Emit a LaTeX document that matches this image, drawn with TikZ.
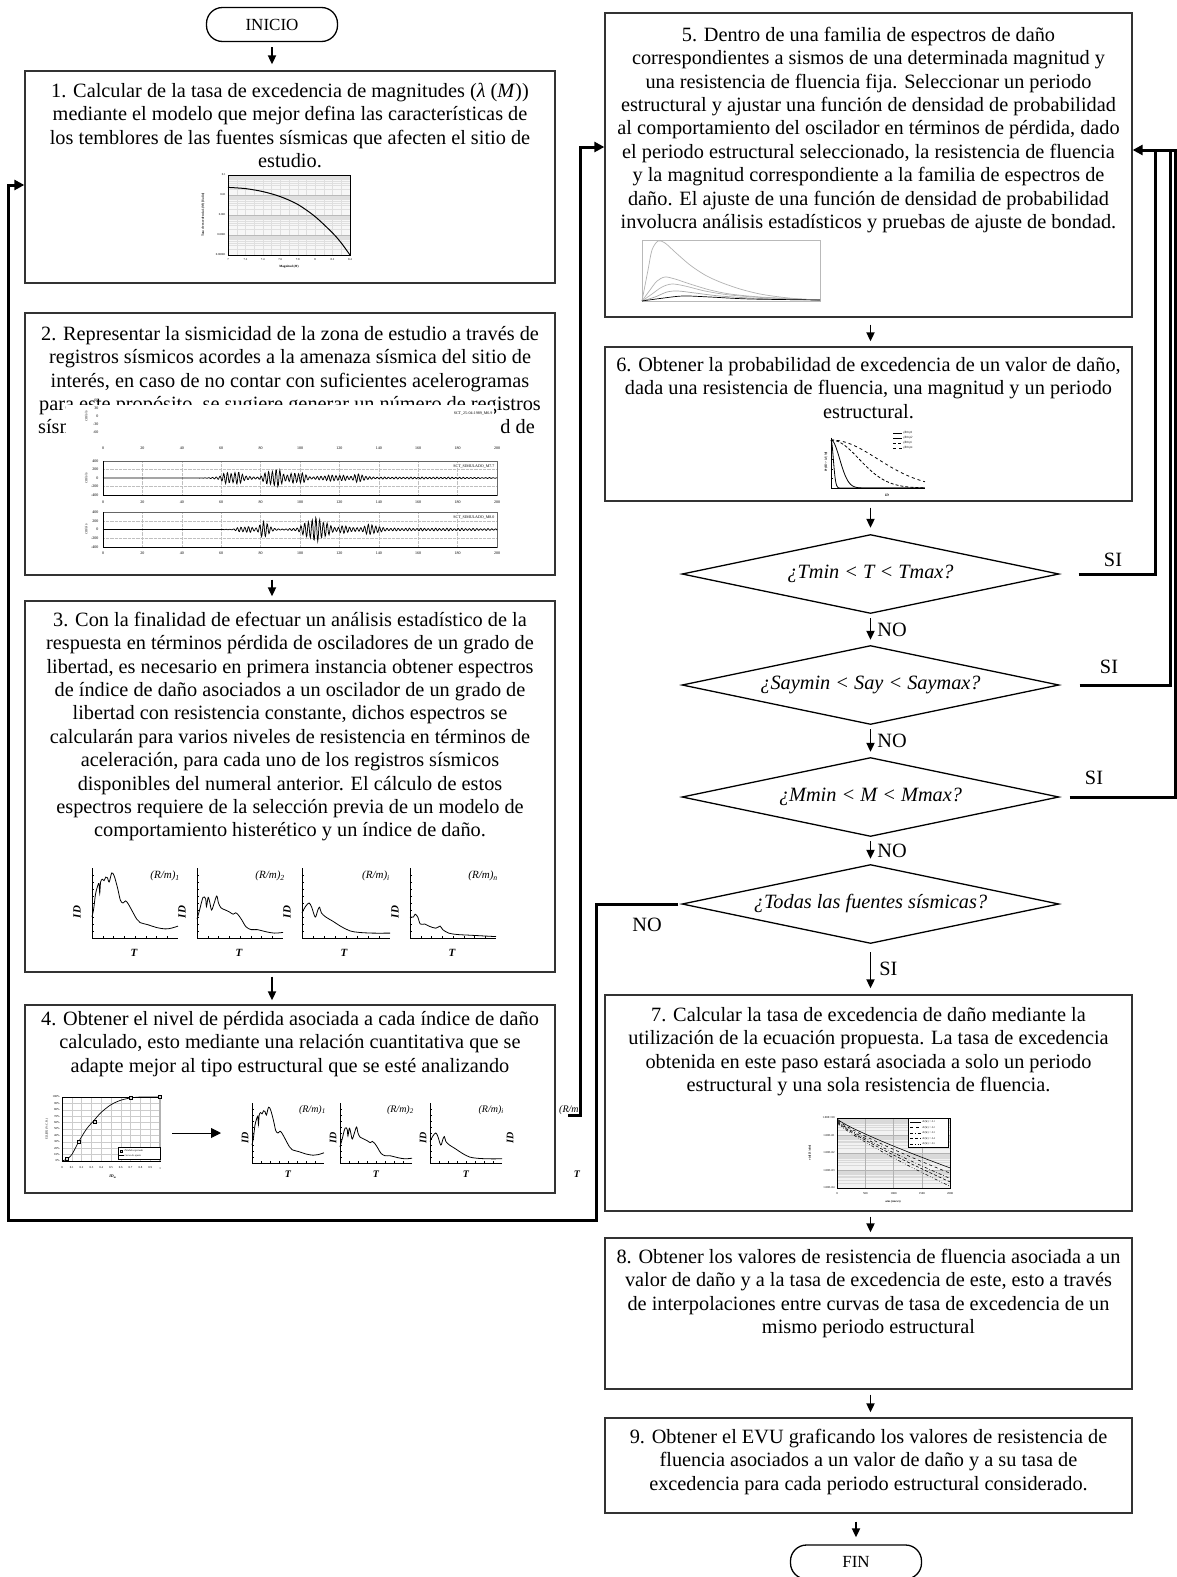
\documentclass[tikz,border=0pt]{standalone}
\usepackage{fontspec}
\setmainfont{Liberation Serif}
\usetikzlibrary{arrows.meta,shapes.geometric,fit,calc}
\newcommand{\fstr}{\rule{0pt}{16pt}}
\newcommand{\rmsub}[1]{\textit{(R/m)}\textsubscript{\textit{#1}}}
\newcommand{\specplot}[5]{%
\begin{scope}[shift={(#1,#2)},x=#3pt,y=#4pt]
\draw[line width=0.7pt] (0,1) -- (0,0) -- (1,0);
\foreach \k in {1,...,9}{\draw[line width=0.4pt] (0,\k/10) -- ++(1.8pt,0);}
\foreach \k in {1,...,7}{\draw[line width=0.4pt] (\k/8,0) -- ++(0,1.8pt);}
\draw[line width=0.8pt] plot[smooth,tension=0.55] coordinates {#5};
\end{scope}}
\begin{document}
\begin{tikzpicture}[x=1pt,y=-1pt,
  declare function={bmp(\q,\c,\w)=1/(1+min(abs((\q-\c)/\w),10)^4);
    envA(\q)=130*bmp(\q,66,6)+180*bmp(\q,87,5)+110*bmp(\q,99,4)+50*bmp(\q,117,7)+65*bmp(\q,130,3)+20*bmp(\q,150,45);
    envB(\q)=60*bmp(\q,72,4)+150*bmp(\q,82,3)+230*bmp(\q,108,6)+50*bmp(\q,123,3)+80*bmp(\q,136,4)+28*bmp(\q,155,50);
    osc(\q)=sin(mod(\q,1.9)/1.9*360)*(0.85+0.15*sin(mod(\q,6.7)/6.7*360));}]
\tikzset{
  mybox/.style={draw=black!80, line width=1.3pt, inner sep=0pt},
  mybody/.style={font=\fontsize{20.3}{23.4}\selectfont, align=center, inner sep=0pt, anchor=north},
  myterm/.style={draw=black, line width=1.3pt, rounded corners=16pt, minimum width=131pt, minimum height=34pt, inner sep=0pt, font=\fontsize{17}{20}\selectfont},
  mydec/.style={diamond, draw=black, line width=1.3pt, minimum width=377pt, minimum height=79pt, shape aspect=4.77, inner sep=0pt, font=\fontsize{20.3}{24}\selectfont\itshape},
  myarr/.style={line width=1.8pt, -{Triangle[length=9pt,width=8pt]}},
  mylp/.style={line width=3pt},
  mylpa/.style={line width=3pt, -{Triangle[length=10pt,width=10pt]}},
  mylbl/.style={font=\fontsize{20.3}{24}\selectfont, inner sep=0pt},
  mytk/.style={font=\fontsize{4}{4.5}\selectfont, inner sep=0.4pt},
  mytiny/.style={font=\fontsize{3}{3.5}\selectfont, inner sep=0.3pt},
  myax/.style={font=\fontsize{11}{12}\selectfont\bfseries\itshape, inner sep=0pt},
  myrm/.style={font=\fontsize{11}{12}\selectfont, inner sep=0pt}
}
\useasboundingbox[fill=white] (0,0) rectangle (1177,1577);

% ---------------- left column boxes ----------------
\node[myterm] (ini) at (272,24.5) {INICIO};
\node[mybox, fit={(25,71) (555,283)}] (b1) {};
\node[mybox, fit={(25,313) (555,575)}] (b2) {};
\node[mybox, fit={(25,601) (555,972)}] (b3) {};
\node[mybox, fit={(25,1005) (555,1193)}] (b4) {};

\node[mybody] (t1) at (290,81) {\fstr 1. Calcular de la tasa de excedencia de magnitudes (\textit{λ} (\textit{M}))\\mediante el modelo que mejor defina las características de\\los temblores de las fuentes sísmicas que afecten el sitio de\\estudio.};
\node[mybody] (t2) at (290,324) {\fstr 2. Representar la sismicidad de la zona de estudio a través de\\registros sísmicos acordes a la amenaza sísmica del sitio de\\interés, en caso de no contar con suficientes acelerogramas\\para este propósito, se sugiere generar un número de registros};
\node[mylbl, anchor=base west] (t2a) at (38,433) {sísm};
\node[mylbl, anchor=base east] (t2b) at (535,433) {d de};
\node[mybody] (t3) at (290,610) {\fstr 3. Con la finalidad de efectuar un análisis estadístico de la\\respuesta en términos pérdida de osciladores de un grado de\\libertad, es necesario en primera instancia obtener espectros\\de índice de daño asociados a un oscilador de un grado de\\libertad con resistencia constante, dichos espectros se\\calcularán para varios niveles de resistencia en términos de\\aceleración, para cada uno de los registros sísmicos\\disponibles del numeral anterior. El cálculo de estos\\espectros requiere de la selección previa de un modelo de\\comportamiento histerético y un índice de daño.};
\node[mybody] (t4) at (290,1009) {\fstr 4. Obtener el nivel de pérdida asociada a cada índice de daño\\calculado, esto mediante una relación cuantitativa que se\\adapte mejor al tipo estructural que se esté analizando};

% ---------------- chart 1 ----------------
\fill[gray!6] (228,175) rectangle (350,255);
\foreach \k in {1,...,13}{\draw[gray!25, line width=0.25pt] ({228+\k*122/14},175) -- ({228+\k*122/14},255);}
\foreach \d in {0,...,3}{\foreach \m in {2,...,9}{\draw[gray!25, line width=0.25pt] (228,{175+20*(\d+1)-20*ln(\m)/ln(10)}) -- (350,{175+20*(\d+1)-20*ln(\m)/ln(10)});}}
\foreach \d in {1,2,3}{\draw[gray!55, line width=0.35pt] (228,{175+20*\d}) -- (350,{175+20*\d});}
\draw[line width=0.8pt] (228,175) rectangle (350,255);
\draw[line width=1pt] plot[smooth] coordinates {(228,187.4) (245.4,188.6) (262.9,191.6) (280.3,196.6) (297.7,204.4) (315.1,216.6) (332.6,233) (341.3,243) (350,255)};
\foreach \v [count=\i from 0] in {0.1,0.01,0.001,0.0001,0.00001}{\node[mytiny, anchor=east] (c1y\i) at (226,{175+20*\i}) {\v};}
\foreach \v [count=\i from 0] in {7,7.2,7.4,7.6,7.8,8,8.2,8.4}{\node[mytiny] (c1x\i) at ({228+\i*122/7},260) {\v};}
\node[mytiny, font=\fontsize{3.2}{3.5}\selectfont\bfseries] (c1xt) at (289,267) {Magnitud (\textit{M})};
\node[mytiny, font=\fontsize{3.2}{3.5}\selectfont\bfseries, rotate=90] (c1yt) at (203,215) {Tasa de excedencia \textit{λ}(\textit{M}) [1/año]};

% ---------------- chart 2 (seismograms) ----------------
\fill[white] (66,405) rectangle (494,442);
\foreach \v/\yy [count=\i] in {60/400,30/408.5,0/416,-30/424,-60/432}{\node[mytk, anchor=east] (c2a\i) at (99,\yy) {\v};}
\foreach \k in {0,...,10}{\pgfmathtruncatemacro\lab{20*\k}\node[mytk] (c2ax\k) at ({103+\k*39.4},448) {\lab};}
\node[mytk, rotate=90] (c2au) at (86,416) {cm/s/s};
\node[mytk, anchor=east] (c2at) at (493,413) {SCT\_25-04-1989\_M6.9};
% panel 2
\foreach \k in {1,...,9}{\draw[gray!50, densely dotted, line width=0.3pt] ({103+\k*39.4},461) -- ({103+\k*39.4},495);}
\draw[gray!50, densely dotted, line width=0.3pt] (103,469.5) -- (497,469.5) (103,486.5) -- (497,486.5);
\draw[black!60, line width=0.4pt] (103,461) rectangle (497,495);
\draw[line width=0.7pt] (103,461) -- (103,495) -- (497,495);
\draw[line width=0.75pt] plot[domain=0:200, samples=801, variable=\x] ({103+1.97*\x},{478-0.048*envA(\x)*osc(\x)});
\foreach \v/\yy [count=\i] in {400/461,200/469.5,0/478,-200/486.5,-400/495}{\node[mytk, anchor=east] (c2b\i) at (99,\yy) {\v};}
\foreach \k in {0,...,10}{\pgfmathtruncatemacro\lab{20*\k}\node[mytk] (c2bx\k) at ({103+\k*39.4},502) {\lab};}
\node[mytk, rotate=90] (c2bu) at (86,478) {cm/s/s};
\node[mytk, anchor=east, fill=white] (c2bt) at (495,466) {SCT\_SIMULADO\_M7.7};
% panel 3
\foreach \k in {1,...,9}{\draw[gray!50, densely dotted, line width=0.3pt] ({103+\k*39.4},512) -- ({103+\k*39.4},547);}
\draw[gray!50, densely dotted, line width=0.3pt] (103,520.75) -- (497,520.75) (103,538.25) -- (497,538.25);
\draw[black!60, line width=0.4pt] (103,512) rectangle (497,547);
\draw[line width=0.7pt] (103,512) -- (103,547) -- (497,547);
\draw[line width=0.75pt] plot[domain=0:200, samples=801, variable=\x] ({103+1.97*\x},{529.5-0.049*envB(\x)*osc(\x+0.7)});
\foreach \v/\yy [count=\i] in {400/512,200/520.75,0/529.5,-200/538.25,-400/547}{\node[mytk, anchor=east] (c2c\i) at (99,\yy) {\v};}
\foreach \k in {0,...,10}{\pgfmathtruncatemacro\lab{20*\k}\node[mytk] (c2cx\k) at ({103+\k*39.4},553) {\lab};}
\node[mytk, rotate=90] (c2cu) at (86,529.5) {cm/s/s};
\node[mytk, anchor=east, fill=white] (c2ct) at (495,517) {SCT\_SIMULADO\_M8.0};

% ---------------- chart 3 (spectra) ----------------
\specplot{92}{938}{86}{70}{(0,0.3) (0.02,0.42) (0.04,0.62) (0.06,0.72) (0.08,0.78) (0.09,0.64) (0.1,0.8) (0.12,0.84) (0.14,0.82) (0.16,0.87) (0.18,0.86) (0.2,0.8) (0.23,0.93) (0.26,0.88) (0.3,0.7) (0.33,0.54) (0.36,0.5) (0.39,0.53) (0.42,0.49) (0.47,0.38) (0.52,0.27) (0.56,0.22) (0.65,0.19) (0.75,0.15) (0.85,0.13) (0.92,0.14) (1,0.17)}
\specplot{197}{938}{86}{70}{(0,0.27) (0.03,0.4) (0.07,0.58) (0.1,0.56) (0.11,0.45) (0.13,0.58) (0.15,0.5) (0.17,0.4) (0.2,0.5) (0.23,0.6) (0.25,0.5) (0.28,0.43) (0.33,0.4) (0.38,0.37) (0.42,0.34) (0.45,0.36) (0.48,0.33) (0.52,0.26) (0.57,0.16) (0.63,0.12) (0.7,0.12) (0.8,0.09) (0.9,0.07) (1,0.08)}
\specplot{302}{938}{88}{70}{(0,0.36) (0.04,0.45) (0.08,0.5) (0.11,0.44) (0.15,0.3) (0.18,0.4) (0.2,0.44) (0.22,0.36) (0.27,0.3) (0.35,0.24) (0.45,0.16) (0.55,0.1) (0.65,0.08) (0.8,0.07) (1,0.07)}
\specplot{410}{938}{86}{70}{(0,0.3) (0.04,0.3) (0.06,0.34) (0.09,0.3) (0.12,0.2) (0.17,0.2) (0.22,0.17) (0.3,0.14) (0.35,0.17) (0.38,0.12) (0.45,0.07) (0.55,0.05) (0.7,0.04) (0.85,0.03) (1,0.02)}
\foreach \xx/\s [count=\i] in {92/1,197/2,302/i,410/n}{
  \node[myrm, anchor=east] (c3r\i) at ({\xx+88},876) {\rmsub{\s}};
  \node[myax, rotate=90] (c3y\i) at ({\xx-15},912) {ID};
  \node[myax] (c3t\i) at ({\xx+42},953) {T};}

% ---------------- chart 4 ----------------
\begin{scope}[shift={(62,1161)}, x=98pt, y=64pt]
\foreach \k in {1,...,9}{\draw[gray!40, line width=0.3pt] (\k/10,0) -- (\k/10,1) (0,\k/10) -- (1,\k/10);}
\draw[line width=0.5pt] (0,0) rectangle (1,1);
\draw[gray!60, line width=1.2pt] (1,0) -- (1,1);
\draw[line width=0.7pt] plot[smooth] coordinates {(0,0) (0.05,0.03) (0.1,0.1) (0.17,0.3) (0.25,0.5) (0.33,0.64) (0.4,0.76) (0.5,0.88) (0.6,0.95) (0.7,0.985) (0.8,1) (1,1)};
\foreach \a/\b in {0.05/0.03,0.17/0.3,0.33/0.62,0.7/0.99,1/1}{\draw[line width=0.4pt, fill=gray!30] (\a,\b) +(-1.5pt,-1.5pt) rectangle +(1.5pt,1.5pt);}
\end{scope}
\foreach \k in {0,...,10}{\pgfmathtruncatemacro\lab{10*\k}\node[mytiny, anchor=east] (c4y\k) at (60,{1161-6.4*\k}) {\lab\%};}
\foreach \v [count=\i from 0] in {0,0.1,0.2,0.3,0.4,0.5,0.6,0.7,0.8,0.9,1}{\node[mytiny] (c4x\i) at ({62+9.8*\i},1168) {\v};}
\node[mytk, font=\fontsize{4}{4.5}\selectfont\bfseries\itshape] (c4xt) at (113,1177) {ID\textsubscript{m}};
\node[mytiny, rotate=90] (c4yt) at (47,1129) {E[L|ID] (\% C.R.)};
\draw[fill=white, line width=0.4pt] (118,1147) rectangle (160,1159);
\draw[line width=0.3pt, fill=gray!30] (120.5,1150) rectangle (122.5,1152);
\node[mytiny, anchor=west, font=\fontsize{2.6}{3}\selectfont\itshape] (c4l1) at (124,1151) {Pérdida esperada};
\draw[line width=0.5pt] (119,1155.5) -- (123.5,1155.5);
\node[mytiny, anchor=west, font=\fontsize{2.6}{3}\selectfont\itshape] (c4l2) at (124,1155.5) {Curva de ajuste};
\coordinate (as) at (172,1133);
\coordinate (ae) at (221,1133);
\draw[line width=0.9pt, -{Triangle[length=10pt,width=10pt]}] (as) -- (ae);
\specplot{252}{1163}{72}{60}{(0,0.3) (0.02,0.42) (0.04,0.62) (0.06,0.72) (0.08,0.78) (0.09,0.64) (0.1,0.8) (0.12,0.84) (0.14,0.82) (0.16,0.87) (0.18,0.86) (0.2,0.8) (0.23,0.93) (0.26,0.88) (0.3,0.7) (0.33,0.54) (0.36,0.5) (0.39,0.53) (0.42,0.49) (0.47,0.38) (0.52,0.27) (0.56,0.22) (0.65,0.19) (0.75,0.15) (0.85,0.13) (0.92,0.14) (1,0.17)}
\specplot{340}{1163}{72}{60}{(0,0.27) (0.03,0.4) (0.07,0.58) (0.1,0.56) (0.11,0.45) (0.13,0.58) (0.15,0.5) (0.17,0.4) (0.2,0.5) (0.23,0.6) (0.25,0.5) (0.28,0.43) (0.33,0.4) (0.38,0.37) (0.42,0.34) (0.45,0.36) (0.48,0.33) (0.52,0.26) (0.57,0.16) (0.63,0.12) (0.7,0.12) (0.8,0.09) (0.9,0.07) (1,0.08)}
\specplot{430}{1163}{72}{60}{(0,0.36) (0.04,0.45) (0.08,0.5) (0.11,0.44) (0.15,0.3) (0.18,0.4) (0.2,0.44) (0.22,0.36) (0.27,0.3) (0.35,0.24) (0.45,0.16) (0.55,0.1) (0.65,0.08) (0.8,0.07) (1,0.07)}
\foreach \xx/\s [count=\i] in {252/1,340/2,430/i}{
  \node[myrm, font=\fontsize{10}{11}\selectfont, anchor=east] (c4r\i) at ({\xx+74},1110) {\rmsub{\s}};
  \node[myax, font=\fontsize{10}{11}\selectfont\bfseries\itshape, rotate=90] (c4d\i) at ({\xx-7},1138) {ID};
  \node[myax, font=\fontsize{10}{11}\selectfont\bfseries\itshape] (c4t\i) at ({\xx+36},1174) {T};}
\node[myrm, font=\fontsize{10}{11}\selectfont\itshape, anchor=west] (c4r4) at (559,1110) {(R/m};
\node[myax, font=\fontsize{10}{11}\selectfont\bfseries\itshape, rotate=90] (c4d4) at (510,1138) {ID};
\node[myax, font=\fontsize{10}{11}\selectfont\bfseries\itshape] (c4t4) at (577,1174) {T};

% ---------------- right column ----------------
\node[mybox, fit={(605,13) (1132,317)}] (b5) {};
\node[mybox, fit={(605,347) (1132,501)}] (b6) {};
\node[mydec] (d1) at (870.5,574) {¿Tmin < T < Tmax?};
\node[mydec] (d2) at (870.5,685) {¿Saymin < Say < Saymax?};
\node[mydec] (d3) at (870.5,797) {¿Mmin < M < Mmax?};
\node[mydec] (d4) at (870.5,904) {¿Todas las fuentes sísmicas?};
\node[mybox, fit={(605,995) (1132,1211)}] (b7) {};
\node[mybox, fit={(605,1238) (1132,1389)}] (b8) {};
\node[mybox, fit={(605,1418) (1132,1513)}] (b9) {};
\node[myterm] (fin) at (856,1562) {FIN};

\node[mybody] (t5) at (868.5,25) {\fstr 5. Dentro de una familia de espectros de daño\\correspondientes a sismos de una determinada magnitud y\\una resistencia de fluencia fija. Seleccionar un periodo\\estructural y ajustar una función de densidad de probabilidad\\al comportamiento del oscilador en términos de pérdida, dado\\el periodo estructural seleccionado, la resistencia de fluencia\\y la magnitud correspondiente a la familia de espectros de\\daño. El ajuste de una función de densidad de probabilidad\\involucra análisis estadísticos y pruebas de ajuste de bondad.};
\node[mybody] (t6) at (868.5,355) {\fstr 6. Obtener la probabilidad de excedencia de un valor de daño,\\dada una resistencia de fluencia, una magnitud y un periodo\\estructural.};
\node[mybody] (t7) at (868.5,1005) {\fstr 7. Calcular la tasa de excedencia de daño mediante la\\utilización de la ecuación propuesta. La tasa de excedencia\\obtenida en este paso estará asociada a solo un periodo\\estructural y una sola resistencia de fluencia.};
\node[mybody] (t8) at (868.5,1247) {\fstr 8. Obtener los valores de resistencia de fluencia asociada a un\\valor de daño y a la tasa de excedencia de este, esto a través\\de interpolaciones entre curvas de tasa de excedencia de un\\mismo periodo estructural};
\node[mybody] (t9) at (868.5,1427) {\fstr 9. Obtener el EVU graficando los valores de resistencia de\\fluencia asociados a un valor de daño y a su tasa de\\excedencia para cada periodo estructural considerado.};

% ---------------- chart 5 ----------------
\draw[gray!55, line width=0.5pt] (642,240) rectangle (820,301);
\draw[gray!60, line width=0.7pt] plot[smooth] coordinates {(642,301) (648,270) (652,250) (658,241) (665,243) (675,252) (690,265) (705,275) (720,282) (740,289) (760,294) (780,297) (800,299) (820,300)};
\draw[gray!60, line width=0.7pt] plot[smooth] coordinates {(642,301) (650,290) (657,281) (665,277) (675,279) (690,284) (710,290) (730,294) (760,297) (800,299) (820,300)};
\draw[gray!60, line width=0.7pt] plot[smooth] coordinates {(642,301) (652,294) (662,287) (672,284) (685,286) (705,291) (730,295) (770,298) (820,300)};
\draw[gray!70, line width=0.7pt] plot[smooth] coordinates {(642,301) (655,297) (667,292) (678,291) (695,293) (720,296) (760,298.5) (820,300)};
\draw[black, line width=0.7pt] plot[smooth] coordinates {(642,301) (660,298.5) (683,296) (710,297) (750,299) (820,300)};

% ---------------- chart 6 ----------------
\begin{scope}[shift={(831,488)}, x=94pt, y=48pt]
\draw[line width=0.8pt] (0,1.05) -- (0,0) -- (1,0);
\foreach \k in {1,...,5}{\draw[line width=0.4pt] (0,\k/5) -- ++(1.5pt,0);}
\draw[line width=0.8pt] plot[smooth, domain=0:1, samples=101] (\x,{exp(-min((\x/0.035)^2,9))});
\draw[line width=0.8pt] plot[smooth, domain=0:1, samples=101] (\x,{exp(-min((\x/0.13)^2,9))});
\draw[line width=0.8pt, densely dashed] plot[smooth, domain=0:1, samples=61] (\x,{exp(-min((\x/0.42)^2,9))});
\draw[line width=0.8pt, dashed] plot[smooth, domain=0:1, samples=61] (\x,{exp(-min((\x/0.7)^2,9))});
\end{scope}
\foreach \s/\yy/\st [count=\i] in {1/433/solid,2/438/solid,i/443/densely dashed,n/448/dashed}{
  \draw[line width=0.6pt, \st] (893,\yy) -- (902,\yy);
  \node[mytiny, anchor=west, font=\fontsize{3.2}{3.5}\selectfont\itshape] (c6l\i) at (903,\yy) {(R/m)\s};}
\node[mytiny, rotate=90, font=\fontsize{3.2}{3.5}\selectfont\bfseries\itshape] (c6yt) at (826,462) {Pr(ID > id | M)};
\node[mytiny, font=\fontsize{3.5}{4}\selectfont\bfseries\itshape] (c6xt) at (887,495) {ID};

% ---------------- chart 7 ----------------
\begin{scope}[shift={(837,1188)}, x=113pt, y=17.5pt]
\fill[gray!10] (0,0) rectangle (1,4);
\foreach \d in {0,...,3}{\foreach \m in {2,...,9}{\draw[gray!30, line width=0.2pt] (0,{\d+ln(\m)/ln(10)}) -- (1,{\d+ln(\m)/ln(10)});}}
\foreach \d in {1,2,3}{\draw[gray!60, line width=0.3pt] (0,\d) -- (1,\d);}
\foreach \k in {1,2,3}{\draw[gray!60, line width=0.3pt] (\k/4,0) -- (\k/4,4);}
\draw[line width=0.6pt] (0,0) rectangle (1,4);
\foreach \e/\st [count=\k] in {-2.8/solid,-3.05/dashed,-3.3/dash dot,-3.45/densely dashed,-3.65/dash dot dot}{
  \draw[line width=0.6pt, \st] plot[domain=0.005:1, samples=40] (\x,{4-0.05*\k+\e*\x^0.85});}
\fill[white] (0.63,2.35) rectangle (0.982,3.97);
\draw[line width=0.4pt] (0.63,2.35) rectangle (0.982,3.97);
\end{scope}
\foreach \s/\st [count=\k] in {0.1/solid,0.2/dashed,0.3/dash dot,0.4/densely dashed,0.5/dash dot dot}{
  \draw[line width=0.6pt, \st] (910,{1116.5+5.5*\k}) -- (921,{1116.5+5.5*\k});
  \node[mytiny, anchor=west, font=\fontsize{2.6}{3}\selectfont\itshape] (c7l\k) at (922,{1116.5+5.5*\k}) {R/(W) = \s};}
\foreach \v [count=\i from 0] in {1.00E+00,1.00E-01,1.00E-02,1.00E-03,1.00E-04}{\node[mytiny, anchor=east] (c7y\i) at (835,{1118+17.5*\i}) {\v};}
\foreach \v [count=\i from 0] in {0,500,1000,1500,2000}{\node[mytiny] (c7x\i) at ({837+28.25*\i},1194) {\v};}
\node[mytiny, font=\fontsize{3}{3.5}\selectfont\bfseries] (c7xt) at (893,1202) {a/m (cm/s/s)};
\node[mytiny, rotate=90, font=\fontsize{3}{3.5}\selectfont\bfseries] (c7yt) at (810,1153) {ν (d) [1/año]};

% ---------------- connectors ----------------
\draw[myarr, shorten <=5pt, shorten >=6pt] (ini.south) -- (ini.south |- b1.north);
\draw[myarr, shorten <=4pt, shorten >=4pt] (ini.south |- b2.south) -- (ini.south |- b3.north);
\draw[myarr, shorten <=4pt, shorten >=4pt] (ini.south |- b3.south) -- (ini.south |- b4.north);
\draw[myarr, shorten <=7pt, shorten >=5pt] (d1 |- b5.south) -- (d1 |- b6.north);
\draw[myarr, shorten <=6pt, shorten >=6pt] (d1 |- b6.south) -- (d1.north);
\draw[myarr, shorten <=4pt, shorten >=5pt] (d1.south) -- node[mylbl, right=6pt] (no1) {NO} (d2.north);
\draw[myarr, shorten <=4pt, shorten >=5pt] (d2.south) -- node[mylbl, right=6pt] (no2) {NO} (d3.north);
\draw[myarr, shorten <=4pt, shorten >=5pt] (d3.south) -- node[mylbl, right=6pt] (no3) {NO} (d4.north);
\draw[myarr, shorten <=8pt, shorten >=6pt] (d4.south) -- node[mylbl, right=8pt] (si4) {SI} (d4.south |- b7.north);
\draw[myarr, shorten <=5pt, shorten >=5pt] (d1 |- b7.south) -- (d1 |- b8.north);
\draw[myarr, shorten <=5pt, shorten >=5pt] (d1 |- b8.south) -- (d1 |- b9.north);
\draw[myarr, shorten <=8pt, shorten >=7pt] (fin |- b9.south) -- (fin.north);

% left loop (NO of d4 back to box 1)
\coordinate (L1) at (596,904);
\coordinate (L2) at (596,1220);
\coordinate (L3) at (8,1220);
\coordinate (L4) at (8,185);
\draw[mylpa, shorten <=3pt] (d4.west) -- (L1) -- (L2) -- (L3) -- (L4) -- (L4 -| b1.west);
\node[mylbl] (nod4) at (647,925) {NO};
% box 4 to box 5
\coordinate (R0) at (568,1115);
\coordinate (R1) at (580,1115);
\coordinate (R2) at (580,147);
\draw[mylpa] (R0) -- (R1) -- (R2) -- (R2 -| b5.west);
% SI loops back to box 5
\coordinate (S1) at (1155,574);
\coordinate (S1t) at (1155,148.5);
\coordinate (S2) at (1170,685);
\coordinate (S2t) at (1170,148.5);
\coordinate (S3) at (1175.5,797);
\coordinate (S3t) at (1175.5,150);
\draw[mylp, shorten <=19pt] (d1.east) -- (S1) -- (S1t);
\draw[mylp, shorten <=20pt] (d2.east) -- (S2) -- (S2t);
\draw[mylpa, shorten <=10pt] (d3.east) -- (S3) -- (S3t) -- (S3t -| b5.east);
\node[mylbl] (si1) at (1113,560) {SI};
\node[mylbl] (si2) at (1109,667) {SI};
\node[mylbl] (si3) at (1094,778) {SI};
\end{tikzpicture}
\end{document}
